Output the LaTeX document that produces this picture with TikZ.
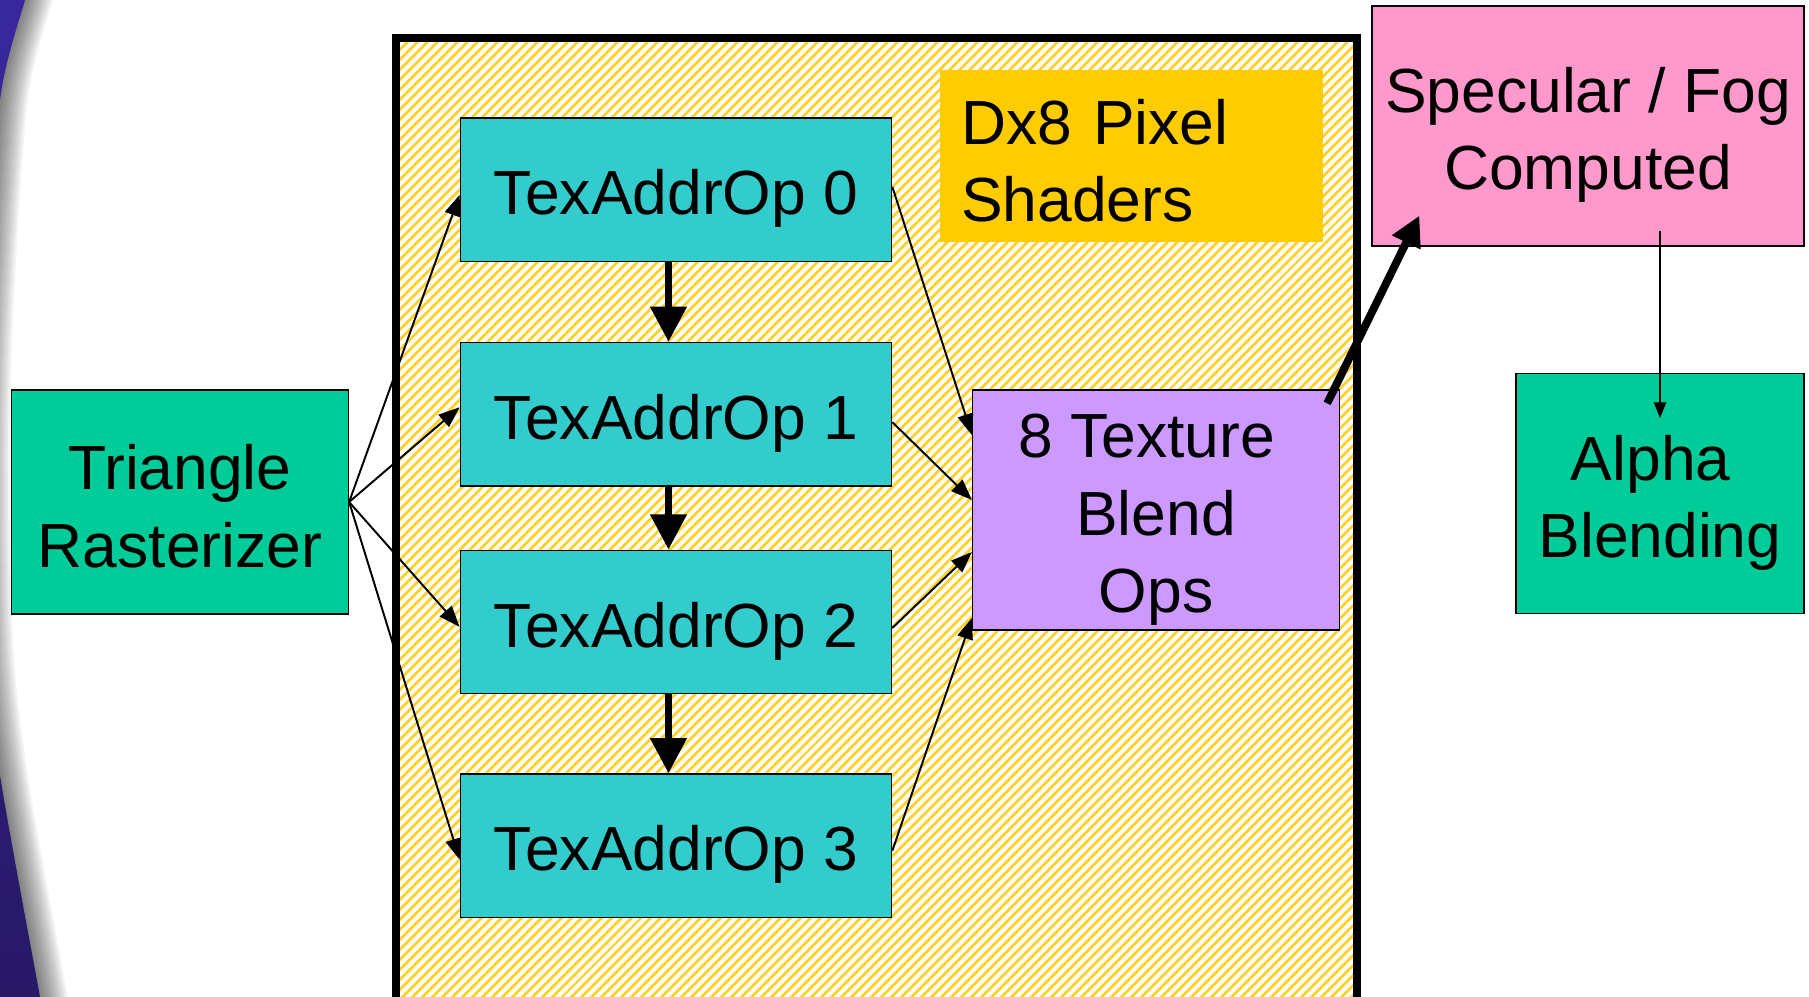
\documentclass[tikz,border=0pt]{standalone}
\usepackage{fontspec}
\setmainfont{Liberation Sans}
\usetikzlibrary{arrows.meta,patterns.meta,calc}
\definecolor{tealbox}{RGB}{51,204,204}
\definecolor{greenbox}{RGB}{0,204,153}
\definecolor{goldbox}{RGB}{255,204,0}
\definecolor{lilacbox}{RGB}{204,153,255}
\definecolor{pinkbox}{RGB}{255,153,204}
\definecolor{hatchcol}{RGB}{255,210,50}
\definecolor{indigoA}{RGB}{58,40,160}
\definecolor{indigoB}{RGB}{38,24,100}
\newcommand\lnstrut{\rule[-6pt]{0pt}{42pt}}
\begin{document}
\begin{tikzpicture}[x=0.02cm,y=-0.02cm,
  box/.style={draw=black, line width=0.7pt, inner sep=0pt, align=center,
    font=\fontsize{35.5}{44}\selectfont},
  sz/.style 2 args={minimum width=#1*0.02cm, minimum height=#2*0.02cm},
  thinarrow/.style={-{Triangle[length=12pt,width=9pt]}, line width=1.1pt},
  thickarrow/.style={-{Triangle[length=20pt,width=20pt]}, line width=4pt},
  diagarrow/.style={-{Triangle[length=17pt,width=17pt]}, line width=4.5pt},
  finearrow/.style={-{Triangle[length=9pt,width=7pt]}, line width=0.6pt}]
\useasboundingbox (0,0) rectangle (1809,997);
\fill[white] (0,0) rectangle (1809,997);
\clip (0,0) rectangle (1809,997);
% slide background edge with shadow
\foreach \s in {0,2,...,28}{
  \fill[black, opacity=0.045, shift={(\s,0)}] (-80,-30) -- plot[smooth] coordinates {(32,-20) (25,0) (0,100) (-14,300) (-18,450) (-15,640) (0,775) (40,997) (44,1020)} -- (-80,1030) -- cycle;
}
\shade[top color=indigoA, bottom color=indigoB] (-80,-30) -- plot[smooth] coordinates {(32,-20) (25,0) (0,100) (-14,300) (-18,450) (-15,640) (0,775) (40,997) (44,1020)} -- (-80,1030) -- cycle;
% pixel shader frame
\node[draw=black, line width=4.5pt, inner sep=0pt, sz={961}{990},
  preaction={fill=white},
  pattern={Lines[angle=45,distance=4pt,line width=1.7pt]}, pattern color=hatchcol] (frame) at (876.5,533) {};
% boxes
\node[box, fill=greenbox, sz={337}{224}] (tri) at (180,502) {\lnstrut Triangle\\\lnstrut Rasterizer};
\node[box, fill=tealbox, sz={431.5}{143.5}] (t0) at (676,189.8) {\lnstrut TexAddrOp 0};
\node[box, fill=tealbox, sz={431.5}{143.5}] (t1) at (676,414.2) {\lnstrut TexAddrOp 1};
\node[box, fill=tealbox, sz={431.5}{143.5}] (t2) at (676,621.9) {\lnstrut TexAddrOp 2};
\node[box, fill=tealbox, sz={431.5}{143.5}] (t3) at (676,845.7) {\lnstrut TexAddrOp 3};
\node[box, draw=none, fill=goldbox, text width=6.82cm, inner xsep=0.42cm,
  minimum height=3.44cm, align=left] (dx) at (1131.8,156.4) {\lnstrut Dx8 Pixel\\\lnstrut Shaders};
\node[box, fill=lilacbox, sz={367}{240}] (blend) at (1156,510) {\lnstrut 8 Texture\hspace*{0.3em}\\\lnstrut Blend\\\lnstrut Ops};
\node[box, fill=pinkbox, sz={432}{240}] (spec) at (1588,126) {\lnstrut Specular / Fog\\\lnstrut Computed};
\node[box, fill=greenbox, sz={288}{240}] (alpha) at (1660,493.8) {\lnstrut Alpha\hspace*{0.3em}\\\lnstrut Blending};
% rasterizer fan-out
\draw[thinarrow] (tri.east) -- ($(t0.west)+(0,5)$);
\draw[thinarrow] (tri.east) -- ($(t1.west)+(0,-7)$);
\draw[thinarrow] (tri.east) -- ($(t2.west)+(0,5)$);
\draw[thinarrow] (tri.east) -- ($(t3.west)+(0,14)$);
% texaddr chain
\draw[thickarrow] ($(t0.south)+(-7.5,0)$) -- ($(t1.north)+(-7.5,0)$);
\draw[thickarrow] ($(t1.south)+(-7.5,0)$) -- ($(t2.north)+(-7.5,0)$);
\draw[thickarrow] ($(t2.south)+(-7.5,0)$) -- ($(t3.north)+(-7.5,0)$);
% into blend
\draw[thinarrow] ($(t0.east)+(0,-3)$) -- ($(blend.west)+(0,-75)$);
\draw[thinarrow] ($(t1.east)+(0,8)$) -- ($(blend.west)+(0,-10)$);
\draw[thinarrow] ($(t2.east)+(0,6)$) -- ($(blend.west)+(0,42)$);
\draw[thinarrow] ($(t3.east)+(0,5)$) -- ($(blend.west)+(0,108)$);
% out
\draw[diagarrow] ($(blend.north east)+(-13,14)$) -- ($(spec.south west)+(48,-31)$);
\draw[finearrow] ($(spec.south)+(72,-16)$) -- ($(alpha.north)+(0,45)$);
\end{tikzpicture}
\end{document}
